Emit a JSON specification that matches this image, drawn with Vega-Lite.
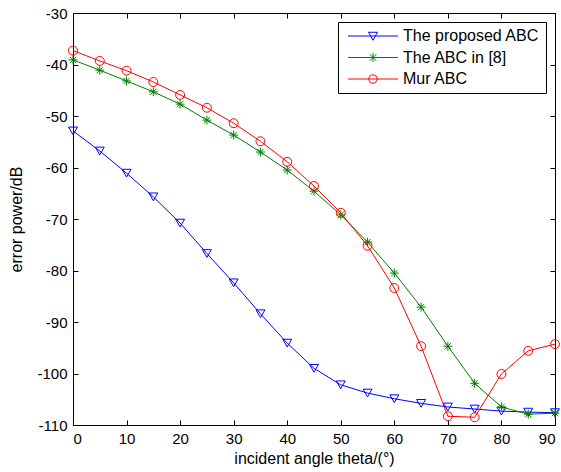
{
  "$schema": "https://vega.github.io/schema/vega-lite/v6.json",
  "width": 482,
  "height": 412,
  "autosize": {"type": "none"},
  "padding": {"left": 73, "top": 13, "right": 6, "bottom": 47},
  "background": "white",
  "config": {
    "font": "Liberation Sans",
    "view": {"stroke": "black", "strokeWidth": 1},
    "axis": {
      "grid": false,
      "domainColor": "black",
      "tickColor": "black",
      "labelColor": "black",
      "titleColor": "black",
      "labelFont": "Liberation Sans",
      "titleFont": "Liberation Sans",
      "labelFontSize": 15,
      "titleFontSize": 16,
      "titleFontWeight": "normal",
      "tickSize": -5,
      "labelPadding": 11
    }
  },
  "data": {
    "values": [
      {"angle": 0, "series": "The proposed ABC", "value": -52.9},
      {"angle": 5, "series": "The proposed ABC", "value": -56.8},
      {"angle": 10, "series": "The proposed ABC", "value": -61.1},
      {"angle": 15, "series": "The proposed ABC", "value": -65.7},
      {"angle": 20, "series": "The proposed ABC", "value": -70.8},
      {"angle": 25, "series": "The proposed ABC", "value": -76.7},
      {"angle": 30, "series": "The proposed ABC", "value": -82.4},
      {"angle": 35, "series": "The proposed ABC", "value": -88.4},
      {"angle": 40, "series": "The proposed ABC", "value": -94.1},
      {"angle": 45, "series": "The proposed ABC", "value": -99.0},
      {"angle": 50, "series": "The proposed ABC", "value": -102.2},
      {"angle": 55, "series": "The proposed ABC", "value": -103.8},
      {"angle": 60, "series": "The proposed ABC", "value": -104.9},
      {"angle": 65, "series": "The proposed ABC", "value": -105.8},
      {"angle": 70, "series": "The proposed ABC", "value": -106.5},
      {"angle": 75, "series": "The proposed ABC", "value": -106.9},
      {"angle": 80, "series": "The proposed ABC", "value": -107.3},
      {"angle": 85, "series": "The proposed ABC", "value": -107.5},
      {"angle": 90, "series": "The proposed ABC", "value": -107.6},
      {"angle": 0, "series": "The ABC in [8]", "value": -39.1},
      {"angle": 5, "series": "The ABC in [8]", "value": -41.1},
      {"angle": 10, "series": "The ABC in [8]", "value": -43.2},
      {"angle": 15, "series": "The ABC in [8]", "value": -45.3},
      {"angle": 20, "series": "The ABC in [8]", "value": -47.7},
      {"angle": 25, "series": "The ABC in [8]", "value": -50.8},
      {"angle": 30, "series": "The ABC in [8]", "value": -53.7},
      {"angle": 35, "series": "The ABC in [8]", "value": -57.0},
      {"angle": 40, "series": "The ABC in [8]", "value": -60.5},
      {"angle": 45, "series": "The ABC in [8]", "value": -64.6},
      {"angle": 50, "series": "The ABC in [8]", "value": -69.2},
      {"angle": 55, "series": "The ABC in [8]", "value": -74.5},
      {"angle": 60, "series": "The ABC in [8]", "value": -80.5},
      {"angle": 65, "series": "The ABC in [8]", "value": -87.1},
      {"angle": 70, "series": "The ABC in [8]", "value": -94.7},
      {"angle": 75, "series": "The ABC in [8]", "value": -101.9},
      {"angle": 80, "series": "The ABC in [8]", "value": -106.5},
      {"angle": 85, "series": "The ABC in [8]", "value": -107.9},
      {"angle": 90, "series": "The ABC in [8]", "value": -107.7},
      {"angle": 0, "series": "Mur ABC", "value": -37.3},
      {"angle": 5, "series": "Mur ABC", "value": -39.3},
      {"angle": 10, "series": "Mur ABC", "value": -41.2},
      {"angle": 15, "series": "Mur ABC", "value": -43.4},
      {"angle": 20, "series": "Mur ABC", "value": -45.9},
      {"angle": 25, "series": "Mur ABC", "value": -48.4},
      {"angle": 30, "series": "Mur ABC", "value": -51.4},
      {"angle": 35, "series": "Mur ABC", "value": -54.9},
      {"angle": 40, "series": "Mur ABC", "value": -58.9},
      {"angle": 45, "series": "Mur ABC", "value": -63.6},
      {"angle": 50, "series": "Mur ABC", "value": -68.8},
      {"angle": 55, "series": "Mur ABC", "value": -75.2},
      {"angle": 60, "series": "Mur ABC", "value": -83.4},
      {"angle": 65, "series": "Mur ABC", "value": -94.7},
      {"angle": 70, "series": "Mur ABC", "value": -108.3},
      {"angle": 75, "series": "Mur ABC", "value": -108.5},
      {"angle": 80, "series": "Mur ABC", "value": -100.1},
      {"angle": 85, "series": "Mur ABC", "value": -95.6},
      {"angle": 90, "series": "Mur ABC", "value": -94.3}
    ]
  },
  "resolve": {"axis": {"x": "independent", "y": "independent"}},
  "layer": [
    {
      "mark": {"type": "line", "strokeWidth": 1},
      "encoding": {
        "x": {
          "field": "angle", "type": "quantitative",
          "scale": {"domain": [0, 90], "nice": false, "zero": false},
          "axis": {"orient": "bottom", "values": [0,10,20,30,40,50,60,70,80,90], "title": "incident angle theta/(°)", "titlePadding": 4, "labelExpr": "'' + datum.value"}
        },
        "y": {
          "field": "value", "type": "quantitative",
          "scale": {"domain": [-110, -30], "nice": false, "zero": false},
          "axis": {"orient": "left", "values": [-110,-100,-90,-80,-70,-60,-50,-40,-30], "title": "error power/dB", "titlePadding": 12, "labelExpr": "'' + datum.value"}
        },
        "color": {
          "field": "series", "type": "nominal",
          "scale": {"domain": ["The proposed ABC", "The ABC in [8]", "Mur ABC"], "range": ["#0000ff", "#008000", "#ff0000"]},
          "legend": {
            "title": null,
            "orient": "none",
            "legendX": 265,
            "legendY": 9,
            "fillColor": "white",
            "strokeColor": "black",
            "padding": 6,
            "cornerRadius": 0,
            "labelFont": "Liberation Sans",
            "labelFontSize": 16,
            "labelColor": "black",
            "symbolSize": 100,
            "symbolStrokeWidth": 1,
            "symbolOffset": 21,
            "labelOffset": 22,
            "rowPadding": 5.5,
            "encode": {
              "symbols": {
                "update": {
                  "shape": {"signal": "datum.value === 'The proposed ABC' ? 'M-5,0L5,0M-0.9,-0.75L0.9,-0.75L0,0.85Z' : datum.value === 'The ABC in [8]' ? 'M-5,0L5,0M0,-0.9L0,0.9M-0.65,-0.65L0.65,0.65M-0.65,0.65L0.65,-0.65M-0.9,0L0.9,0' : 'M-5,0L5,0M0.85,0A0.85,0.85 0 1,1 -0.85,0A0.85,0.85 0 1,1 0.85,0'"},
                  "fill": {"value": "transparent"}
                }
              }
            }
          }
        }
      }
    },
    {
      "transform": [{"filter": "datum.series === 'The proposed ABC'"}],
      "mark": {"type": "point", "filled": false, "strokeWidth": 1, "opacity": 1, "shape": "triangle-down", "size": 80, "stroke": "#0000ff"},
      "encoding": {
        "x": {
          "field": "angle", "type": "quantitative",
          "axis": {"orient": "top", "values": [0,10,20,30,40,50,60,70,80,90], "labels": false, "title": null}
        },
        "y": {
          "field": "value", "type": "quantitative",
          "axis": {"orient": "right", "values": [-110,-100,-90,-80,-70,-60,-50,-40,-30], "labels": false, "title": null}
        }
      }
    },
    {
      "transform": [{"filter": "datum.series === 'The ABC in [8]'"}],
      "mark": {"type": "point", "filled": false, "strokeWidth": 1, "opacity": 1, "shape": "M0,-1L0,1M-0.7,-0.7L0.7,0.7M-0.7,0.7L0.7,-0.7M-1,0L1,0", "size": 80, "stroke": "#008000"},
      "encoding": {
        "x": {"field": "angle", "type": "quantitative", "axis": null},
        "y": {"field": "value", "type": "quantitative", "axis": null}
      }
    },
    {
      "transform": [{"filter": "datum.series === 'Mur ABC'"}],
      "mark": {"type": "point", "filled": false, "strokeWidth": 1, "opacity": 1, "shape": "circle", "size": 80, "stroke": "#ff0000"},
      "encoding": {
        "x": {"field": "angle", "type": "quantitative", "axis": null},
        "y": {"field": "value", "type": "quantitative", "axis": null}
      }
    }
  ]
}
